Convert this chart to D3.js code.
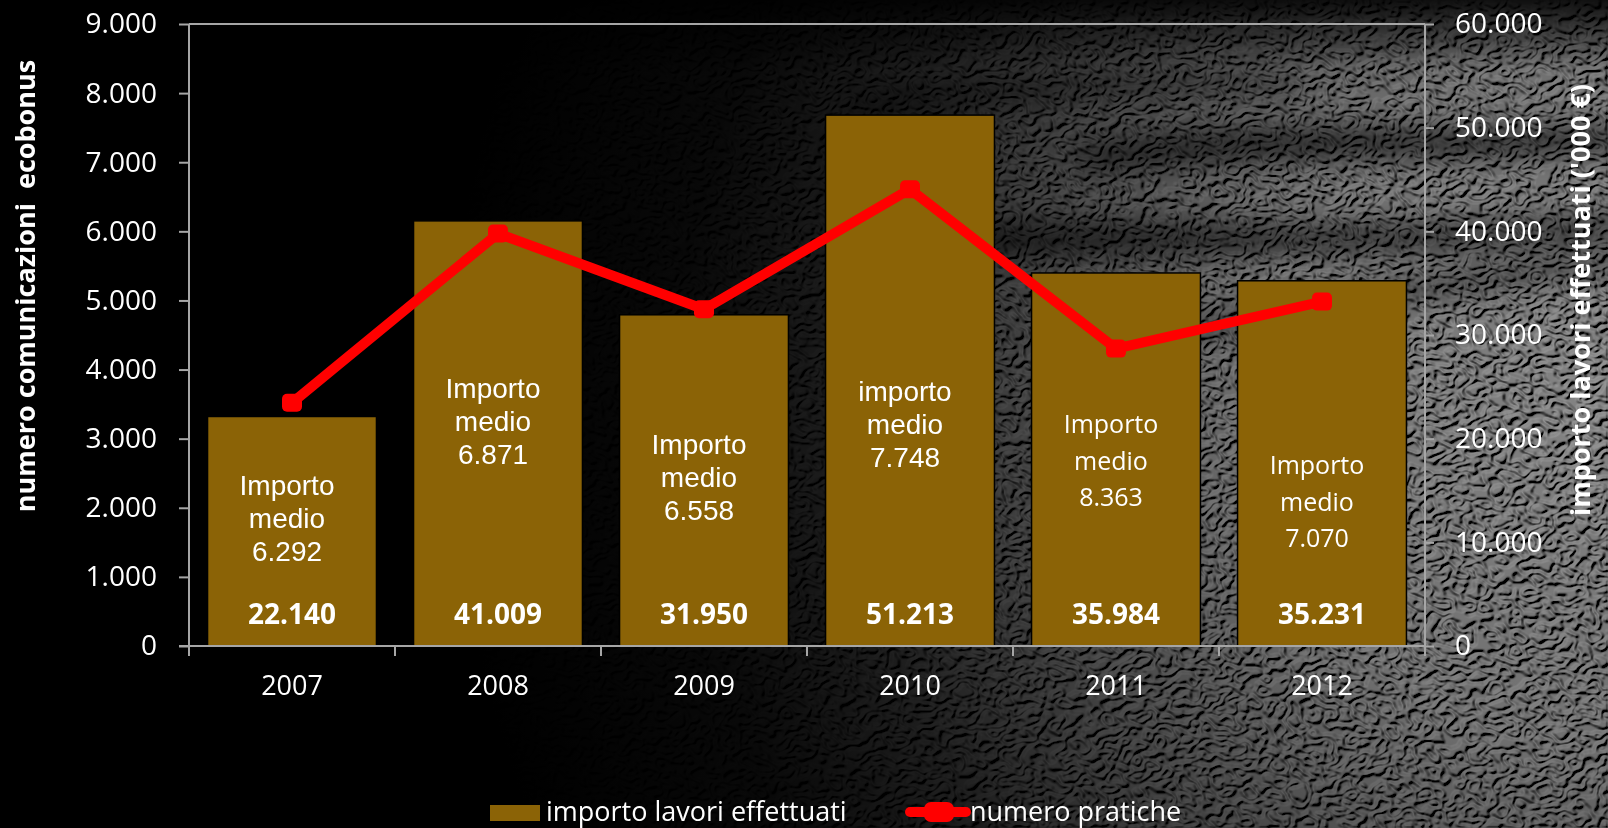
<!DOCTYPE html>
<html>
<head>
<meta charset="utf-8">
<script src="https://cdn.jsdelivr.net/npm/d3@7"></script>
<style>
  html, body { margin: 0; padding: 0; background: #000; }
  svg { display: block; }
</style>
</head>
<body>
<svg id="chart" width="1608" height="828"></svg>
<script>
// ---- data ----
const years = ["2007", "2008", "2009", "2010", "2011", "2012"];
// importo lavori effettuati ('000 €) - right axis
const importoLavori = [22140, 41009, 31950, 51213, 35984, 35231];
// numero pratiche - left axis
const numeroPratiche = [3519, 5968, 4872, 6610, 4303, 4983];
// importo medio per pratica (label text)
const medioWord = ["Importo", "Importo", "Importo", "importo", "Importo", "Importo"];
const importoMedio = ["6.292", "6.871", "6.558", "7.748", "8.363", "7.070"];
const leftTicks = [0, 1000, 2000, 3000, 4000, 5000, 6000, 7000, 8000, 9000];
const rightTicks = [0, 10000, 20000, 30000, 40000, 50000, 60000];

const leftTitle = "numero comunicazioni  ecobonus";
const rightTitle = "importo lavori effettuati ('000 €)";
const legendBar = "importo lavori effettuati";
const legendLine = "numero pratiche";

// ---- layout ----
const W = 1608, H = 828;
const plot = { left: 189, right: 1425, top: 24, bottom: 646 };
// baseline of the first "Importo medio" line inside each bar
const medioTop = [495, 398, 454, 401, 433, 474];

const it = d3.formatLocale({ decimal: ",", thousands: ".", grouping: [3], currency: ["€", ""] });
const fmt = it.format(",d");

const BAR = "#8b6306";
const RED = "#ff0000";
const AXIS = "#a6a6a6";
const CAL = "'Open Sans', 'Noto Sans', sans-serif";
const ARIAL = "'Liberation Sans', Arial, sans-serif";

const svg = d3.select("#chart");
const defs = svg.append("defs");

// ---- textured leather background ----
const f = defs.append("filter").attr("id", "tex")
  .attr("filterUnits", "userSpaceOnUse")
  .attr("x", 0).attr("y", 0).attr("width", W).attr("height", H);
f.append("feTurbulence").attr("type", "fractalNoise")
  .attr("baseFrequency", "0.045 0.07").attr("numOctaves", 2).attr("seed", 5).attr("result", "n");
const ct = f.append("feComponentTransfer").attr("in", "n").attr("result", "q");
ct.append("feFuncA").attr("type", "discrete").attr("tableValues", "0 0 0 1 0 1 0 1 1 1");
f.append("feGaussianBlur").attr("in", "q").attr("stdDeviation", 1.0).attr("result", "qb");
const lit = f.append("feDiffuseLighting").attr("in", "qb")
  .attr("surfaceScale", 3).attr("diffuseConstant", 1.0)
  .attr("lighting-color", "#959595").attr("result", "lit");
lit.append("feDistantLight").attr("azimuth", 235).attr("elevation", 50);

const g1 = defs.append("radialGradient").attr("id", "fade")
  .attr("gradientUnits", "userSpaceOnUse")
  .attr("cx", 1600).attr("cy", 400).attr("r", 1150);
[[0, "#fff"], [0.3, "#d8d8d8"], [0.5, "#808080"], [0.65, "#383838"], [0.8, "#101010"], [1, "#000"]]
  .forEach(([o, c]) => g1.append("stop").attr("offset", o).attr("stop-color", c));
defs.append("mask").attr("id", "fadeMask")
  .append("rect").attr("width", W).attr("height", H).attr("fill", "url(#fade)");

const gTop = defs.append("linearGradient").attr("id", "topShade")
  .attr("x1", 0).attr("y1", 0).attr("x2", 0).attr("y2", 1);
gTop.append("stop").attr("offset", 0).attr("stop-color", "#000").attr("stop-opacity", 0.85);
gTop.append("stop").attr("offset", 1).attr("stop-color", "#000").attr("stop-opacity", 0);

defs.append("filter").attr("id", "soft").attr("x", "-30%").attr("y", "-200%")
  .attr("width", "160%").attr("height", "500%")
  .append("feGaussianBlur").attr("stdDeviation", 14);

svg.append("rect").attr("width", W).attr("height", H).attr("fill", "#000");
const bg = svg.append("g").attr("mask", "url(#fadeMask)");
bg.append("rect").attr("width", W).attr("height", H).attr("fill", "#000").attr("filter", "url(#tex)");
// dark wrinkles across the leather
const streaks = bg.append("g").attr("filter", "url(#soft)").attr("fill", "#000");
streaks.append("path").attr("opacity", 0.75)
  .attr("d", "M1080,150 C1250,120 1420,135 1620,128 L1620,150 C1420,160 1250,150 1080,168 Z");
streaks.append("path").attr("opacity", 0.7)
  .attr("d", "M900,232 C1100,215 1300,240 1620,215 L1620,238 C1300,262 1100,245 900,258 Z");
streaks.append("path").attr("opacity", 0.6)
  .attr("d", "M1150,330 C1300,300 1450,270 1620,255 L1620,272 C1450,290 1300,318 1150,345 Z");
streaks.append("path").attr("opacity", 0.55)
  .attr("d", "M850,100 C1000,80 1150,70 1300,78 L1300,92 C1150,88 1000,98 850,118 Z");
bg.append("rect").attr("width", W).attr("height", 70).attr("fill", "url(#topShade)");

// ---- scales ----
const x = d3.scaleBand().domain(years).range([plot.left, plot.right])
  .paddingInner(0.18).paddingOuter(0.09);
const yL = d3.scaleLinear().domain([0, 9000]).range([plot.bottom, plot.top]);
const yR = d3.scaleLinear().domain([0, 60000]).range([plot.bottom, plot.top]);

// ---- bars ----
svg.append("g").selectAll("rect").data(years).join("rect")
  .attr("x", d => x(d))
  .attr("y", (d, i) => yR(importoLavori[i]))
  .attr("width", x.bandwidth())
  .attr("height", (d, i) => yR(0) - yR(importoLavori[i]))
  .attr("fill", BAR).attr("stroke", "#000").attr("stroke-width", 1.5);

// ---- axes ----
const axisL = d3.axisLeft(yL).tickValues(leftTicks).tickFormat(fmt).tickSize(10).tickPadding(22);
const axisR = d3.axisRight(yR).tickValues(rightTicks).tickFormat(fmt).tickSize(9).tickPadding(21);
const axisB = d3.axisBottom(x).tickSize(0).tickPadding(30);

function styleAxis(g) {
  g.select(".domain").attr("stroke", AXIS).attr("stroke-width", 2);
  g.selectAll(".tick line").attr("stroke", AXIS).attr("stroke-width", 2);
  g.selectAll(".tick text").attr("fill", "#fff").attr("font-family", CAL).attr("font-size", 28);
}
svg.append("g").attr("transform", `translate(${plot.left},0)`).call(axisL).call(styleAxis)
  .call(g => g.select(".domain").attr("d", `M0,${plot.top}V${plot.bottom}`));
svg.append("g").attr("transform", `translate(${plot.right},0)`).call(axisR).call(styleAxis)
  .call(g => g.select(".domain").attr("d", `M0,${plot.top}V${plot.bottom}`))
  .call(g => g.selectAll(".tick text").attr("text-anchor", "start"));
// plot top border
svg.append("line").attr("x1", plot.left).attr("x2", plot.right)
  .attr("y1", plot.top).attr("y2", plot.top).attr("stroke", AXIS).attr("stroke-width", 2);
// category axis with boundary ticks
const gx = svg.append("g").attr("transform", `translate(0,${plot.bottom})`).call(axisB).call(styleAxis);
gx.selectAll(".tick text").attr("font-size", 27);
gx.select(".domain").attr("d", `M${plot.left - 10},0H${plot.right}`);
const bounds = years.map((d, i) => x(d) - x.step() * x.paddingOuter()).concat([plot.right]);
gx.selectAll(".bound").data(bounds).join("line").attr("class", "bound")
  .attr("x1", d => d).attr("x2", d => d).attr("y1", 0).attr("y2", 10)
  .attr("stroke", AXIS).attr("stroke-width", 2);

// ---- line series ----
const cx = d => x(d) + x.bandwidth() / 2;
const line = d3.line().x(d => cx(d)).y((d, i) => yL(numeroPratiche[i]));
svg.append("path").datum(years).attr("d", line)
  .attr("fill", "none").attr("stroke", RED).attr("stroke-width", 10)
  .attr("stroke-linejoin", "round");
svg.append("g").selectAll("rect").data(years).join("rect")
  .attr("x", d => cx(d) - 10).attr("y", (d, i) => yL(numeroPratiche[i]) - 9)
  .attr("width", 20).attr("height", 18).attr("rx", 5).attr("fill", RED);

// ---- labels inside bars ----
const lab = svg.append("g").attr("fill", "#fff").attr("text-anchor", "middle");
years.forEach((d, i) => {
  const arial = i < 4;
  const t = lab.append("text")
    .attr("font-family", arial ? ARIAL : CAL)
    .attr("font-size", arial ? 28 : 25);
  const lh = arial ? 33 : 36.5;
  [medioWord[i], "medio", importoMedio[i]].forEach((s, k) => {
    t.append("tspan").attr("x", cx(d) - 5).attr("y", medioTop[i] + k * lh).text(s);
  });
  lab.append("text").attr("x", cx(d)).attr("y", 624)
    .attr("font-family", CAL).attr("font-weight", 700).attr("font-size", 28)
    .text(fmt(importoLavori[i]));
});

// ---- axis titles ----
svg.append("text").attr("transform", "translate(35,286) rotate(-90)")
  .attr("text-anchor", "middle").attr("fill", "#fff")
  .attr("font-family", CAL).attr("font-weight", 700).attr("font-size", 27)
  .style("white-space", "pre").text(leftTitle);
svg.append("text").attr("transform", "translate(1590,300) rotate(-90)")
  .attr("text-anchor", "middle").attr("fill", "#fff")
  .attr("font-family", CAL).attr("font-weight", 700).attr("font-size", 27)
  .text(rightTitle);

// ---- legend ----
const lg = svg.append("g");
lg.append("rect").attr("x", 490).attr("y", 805).attr("width", 50).attr("height", 16).attr("fill", BAR);
lg.append("text").attr("x", 546).attr("y", 821).attr("fill", "#fff")
  .attr("font-family", CAL).attr("font-size", 27).text(legendBar);
lg.append("line").attr("x1", 910).attr("x2", 966).attr("y1", 812).attr("y2", 812)
  .attr("stroke", RED).attr("stroke-width", 10).attr("stroke-linecap", "round");
lg.append("rect").attr("x", 924).attr("y", 802).attr("width", 30).attr("height", 20)
  .attr("rx", 7).attr("fill", RED);
lg.append("text").attr("x", 970).attr("y", 821).attr("fill", "#fff")
  .attr("font-family", CAL).attr("font-size", 27).text(legendLine);
</script>
</body>
</html>
